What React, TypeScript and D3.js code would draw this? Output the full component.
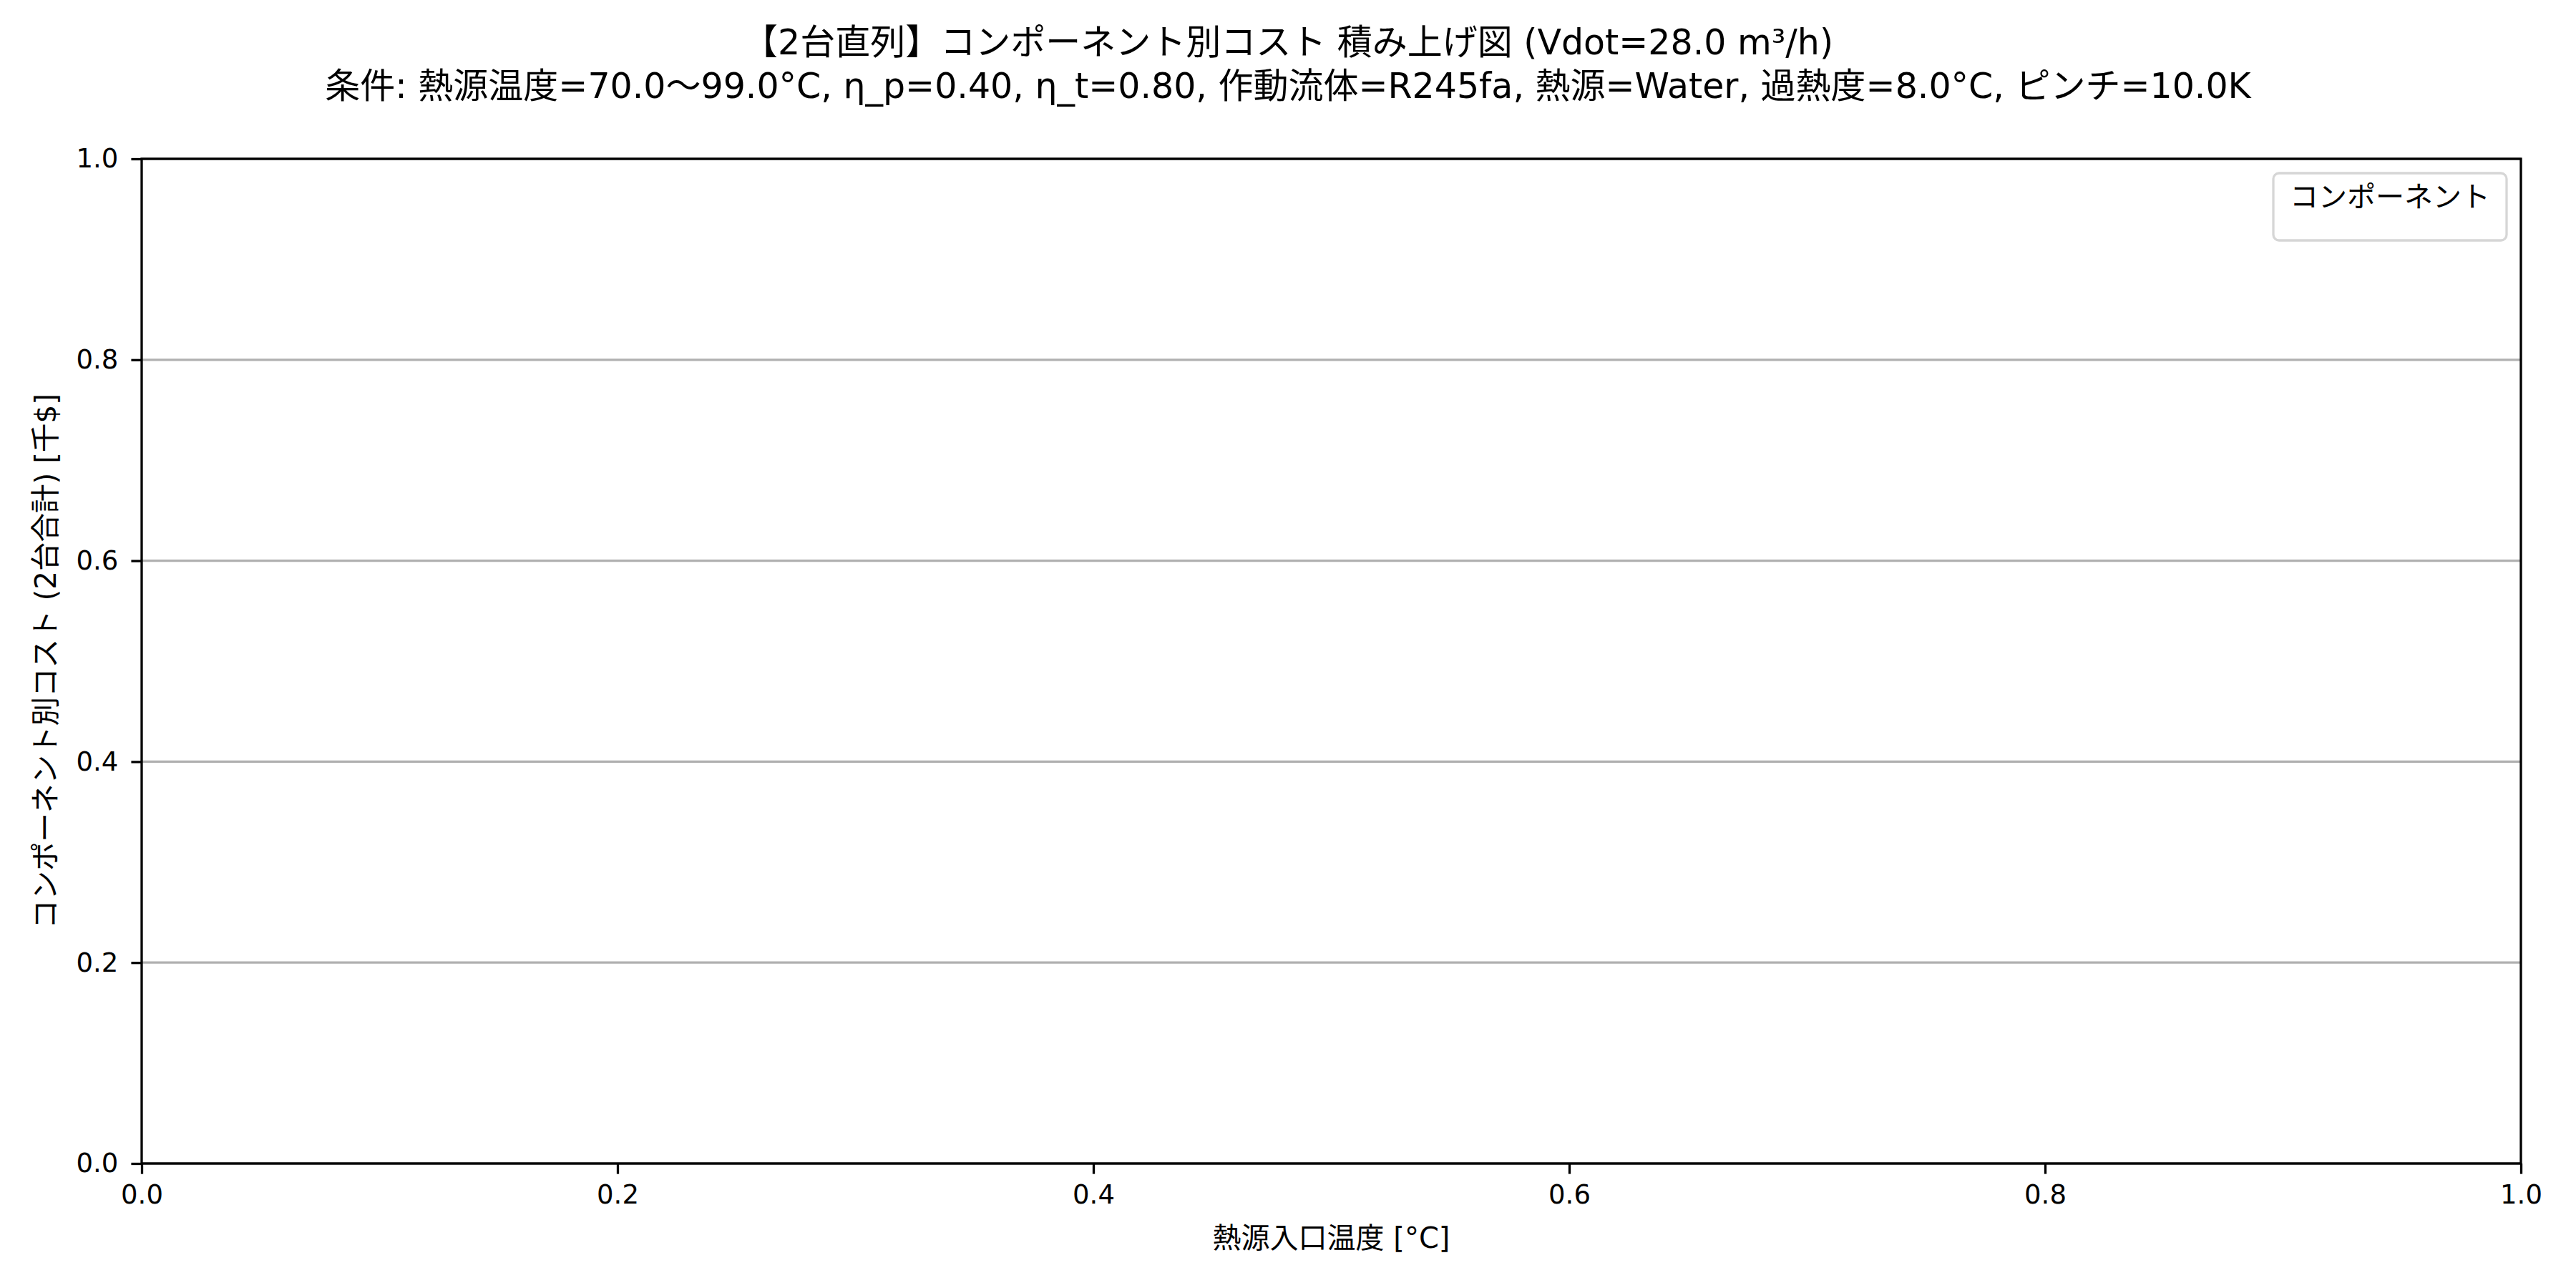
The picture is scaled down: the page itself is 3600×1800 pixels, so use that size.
import {useEffect, useRef} from "react";
import * as d3 from "d3";

// chart is empty in the reference: no component series were drawn
const temperatures: number[] = [];
const components: string[] = [];
const xTicks = [0.0, 0.2, 0.4, 0.6, 0.8, 1.0];
const yTicks = [0.0, 0.2, 0.4, 0.6, 0.8, 1.0];

const titleLines = [
	"【2台直列】コンポーネント別コスト 積み上げ図 (Vdot=28.0 m³/h)",
	"条件: 熱源温度=70.0〜99.0°C, η_p=0.40, η_t=0.80, 作動流体=R245fa, 熱源=Water, 過熱度=8.0°C, ピンチ=10.0K",
];
const xLabel = "熱源入口温度 [°C]";
const yLabel = "コンポーネント別コスト (2台合計) [千$]";
const legendTitle = "コンポーネント";

const W = 3600;
const H = 1800;
const FONT = "'DejaVu Sans', 'Noto Sans CJK JP', sans-serif";

const App = () => {
	const svgRef = useRef<SVGSVGElement>(null);

	useEffect(() => {
		const left = 198;
		const right = 3523;
		const top = 222;
		const bottom = 1626;
		const lw = 3.3;
		const tickLen = 14.6;

		const x = d3.scaleLinear().domain([0, 1]).range([left, right]);
		const y = d3.scaleLinear().domain([0, 1]).range([bottom, top]);

		const svg = d3.select(svgRef.current);
		svg.selectAll("*").remove();

		svg.append("rect").attr("width", W).attr("height", H).attr("fill", "#fff");

		// horizontal grid
		svg.append("g")
			.selectAll("line")
			.data(yTicks)
			.join("line")
			.attr("x1", left)
			.attr("x2", right)
			.attr("y1", (d) => y(d))
			.attr("y2", (d) => y(d))
			.attr("stroke", "#b0b0b0")
			.attr("stroke-width", lw);

		// x axis
		const xAxis = svg.append("g")
			.attr("transform", `translate(0,${bottom})`)
			.call(d3.axisBottom(x).tickValues(xTicks).tickFormat(d3.format(".1f")).tickSize(tickLen).tickPadding(15).tickSizeOuter(0));
		xAxis.select(".domain").remove();
		xAxis.selectAll("line").attr("stroke", "#000").attr("stroke-width", lw);
		xAxis.selectAll("text").attr("font-family", FONT).attr("font-size", 37).attr("fill", "#000");

		// y axis
		const yAxis = svg.append("g")
			.attr("transform", `translate(${left},0)`)
			.call(d3.axisLeft(y).tickValues(yTicks).tickFormat(d3.format(".1f")).tickSize(tickLen).tickPadding(18).tickSizeOuter(0));
		yAxis.select(".domain").remove();
		yAxis.selectAll("line").attr("stroke", "#000").attr("stroke-width", lw);
		yAxis.selectAll("text").attr("font-family", FONT).attr("font-size", 37).attr("fill", "#000");

		// spines
		svg.append("rect")
			.attr("x", left)
			.attr("y", top)
			.attr("width", right - left)
			.attr("height", bottom - top)
			.attr("fill", "none")
			.attr("stroke", "#000")
			.attr("stroke-width", lw);

		// stacked areas (none in the reference)
		const stack = d3.stack<any>().keys(components);
		const series = stack(temperatures.map((t) => ({t})));
		const area = d3.area<any>()
			.x((d) => x(d.data.t))
			.y0((d) => y(d[0]))
			.y1((d) => y(d[1]));
		svg.append("g").selectAll("path").data(series).join("path").attr("d", area as any);

		// title
		svg.append("g")
			.selectAll("text")
			.data(titleLines)
			.join("text")
			.attr("x", W / 2)
			.attr("y", (_d, i) => 76 + i * 61)
			.attr("text-anchor", "middle")
			.attr("font-family", FONT)
			.attr("font-size", 49)
			.attr("fill", "#000")
			.text((d) => d);

		// axis labels
		svg.append("text")
			.attr("x", (left + right) / 2)
			.attr("y", 1744)
			.attr("text-anchor", "middle")
			.attr("font-family", FONT)
			.attr("font-size", 40)
			.text(xLabel);

		svg.append("text")
			.attr("transform", `translate(78,${(top + bottom) / 2}) rotate(-90)`)
			.attr("text-anchor", "middle")
			.attr("font-family", FONT)
			.attr("font-size", 40.5)
			.text(yLabel);

		// legend
		const lg = svg.append("g");
		lg.append("rect")
			.attr("x", 3177)
			.attr("y", 242)
			.attr("width", 326)
			.attr("height", 94)
			.attr("rx", 8)
			.attr("fill", "#fff")
			.attr("fill-opacity", 0.8)
			.attr("stroke", "#d6d6d6")
			.attr("stroke-width", lw);
		lg.append("text")
			.attr("x", 3340)
			.attr("y", 289)
			.attr("text-anchor", "middle")
			.attr("font-family", FONT)
			.attr("font-size", 40)
			.text(legendTitle);
	}, []);

	return (
		<div style={{position: "absolute", left: 0, top: 0}}>
			<svg ref={svgRef} width={W} height={H}></svg>
		</div>
	);
};

export default App;
